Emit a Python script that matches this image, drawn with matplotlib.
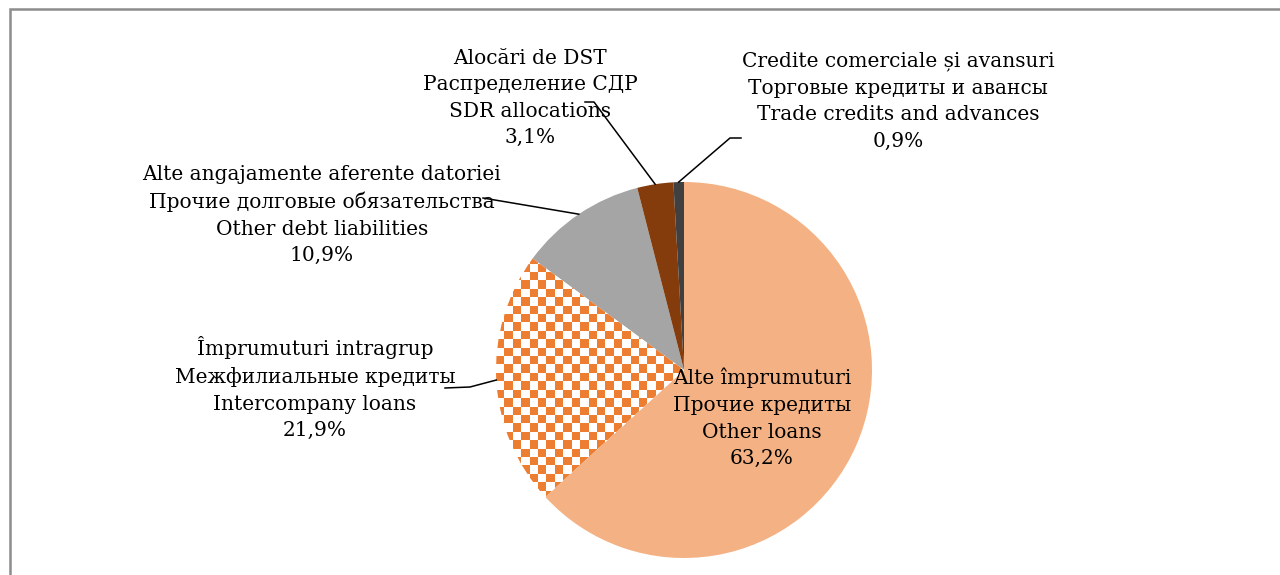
import matplotlib
matplotlib.use("Agg")
import matplotlib.pyplot as plt
import numpy as np

# ---- data ----
labels = [
    "Alte împrumuturi\nПрочие кредиты\nOther loans",
    "Împrumuturi intragrup\nМежфилиальные кредиты\nIntercompany loans",
    "Alte angajamente aferente datoriei\nПрочие долговые обязательства\nOther debt liabilities",
    "Alocări de DST\nРаспределение СДР\nSDR allocations",
    "Credite comerciale și avansuri\nТорговые кредиты и авансы\nTrade credits and advances",
]
shares = [63.2, 21.9, 10.9, 3.1, 0.9]
colors = ["#F4B183", "#FFFFFF", "#A5A5A5", "#843C0C", "#404040"]

W, H = 1280, 575


def py(y):
    # pixel row (from top) -> data y
    return H - y


fig = plt.figure(figsize=(W / 100, H / 100), dpi=100)
ax = fig.add_axes([0, 0, 1, 1])

cx, cy, R = 684, py(370), 188
wedges, _ = ax.pie(shares, colors=colors, startangle=90, counterclock=False,
                   center=(cx, cy), radius=R, frame=True,
                   wedgeprops=dict(linewidth=0))

# checkerboard fill for intercompany loans
cell = 8.4
n = int(2 * R / cell) + 2
ii, jj = np.indices((n, n))
checker = np.where((ii + jj) % 2 == 0, 1.0, 0.0)
cmap = matplotlib.colors.ListedColormap(["#FFFFFF", "#ED7D31"])
im = ax.imshow(checker, cmap=cmap, interpolation="nearest",
               extent=(cx - R, cx - R + n * cell, cy - R, cy - R + n * cell),
               zorder=2)
im.set_clip_path(wedges[1])

ax.set_xlim(0, W)
ax.set_ylim(0, H)
ax.set_aspect("equal")
ax.axis("off")

# labels: text centre (px) and leader line start points (px)
text_pos = [(762, 418), (315, 388), (322, 215), (530, 98), (898, 101)]
leaders = [None,
           [(445, 388), (470, 387)],
           [(483, 198)],
           [(585, 102), (594, 102)],
           [(741, 138), (730, 138)]]

font = dict(family="DejaVu Serif", fontsize=14.5, color="black")
for w, lab, v, (tx, ty), lead in zip(wedges, labels, shares, text_pos, leaders):
    txt = f"{lab}\n{v:.1f}%".replace(".", ",")
    ax.text(tx, py(ty), txt, ha="center", va="center", linespacing=1.5,
            zorder=5, **font)
    if lead:
        ang = np.deg2rad((w.theta1 + w.theta2) / 2)
        ex, ey = cx + R * np.cos(ang), cy + R * np.sin(ang)
        xs = [p[0] for p in lead] + [ex]
        ys = [py(p[1]) for p in lead] + [ey]
        ax.plot(xs, ys, color="black", lw=1.1, zorder=6)

# outer frame (only left and top edges visible)
ax.plot([10, 10, W], [0, py(8.5), py(8.5)], color="#8c8c8c", lw=1.8,
        solid_joinstyle="miter", zorder=7)

fig.savefig("out.png", dpi=100)
